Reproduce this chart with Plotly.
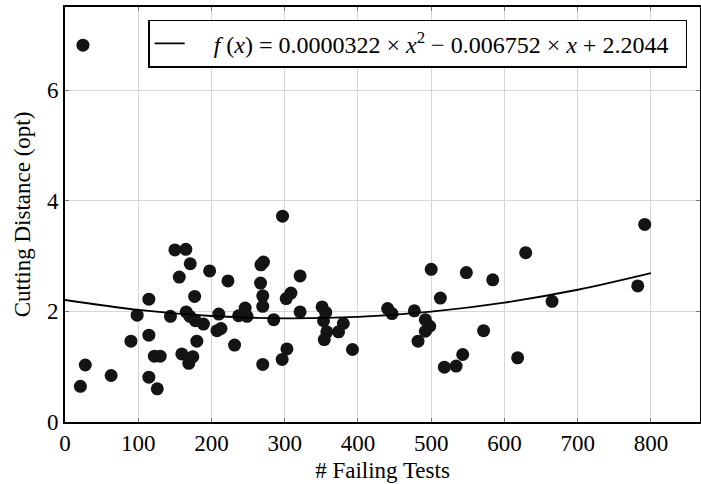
import plotly.graph_objects as go

# Scatter data: failing tests vs cutting distance
failing_tests = [24.5, 21, 27.7, 63, 90, 98.5, 114.5, 114.5, 114.5, 126, 122, 130, 144, 150, 165,
                 156, 171, 159.5, 169, 174.5, 177, 165.5, 170.5, 178, 180, 189, 197.5, 210, 207.5,
                 213, 222.5, 231.5, 237, 246, 248.5, 267, 267.5, 271, 270, 270, 270, 285, 296.5,
                 303, 297, 302, 308.5, 321, 321, 351, 356, 353, 357.5, 354, 373.5, 380, 392.5,
                 440.5, 446.5, 477, 492, 498, 492, 482, 500, 512.5, 548, 584, 571.5, 518, 534,
                 543, 618, 629, 665, 782, 791.5]
cutting_distance = [6.81, 0.645, 1.03, 0.84, 1.46, 1.93, 2.22, 1.57, 0.81, 0.60, 1.19, 1.19, 1.91,
                    3.11, 3.12, 2.62, 2.86, 1.23, 1.06, 1.18, 2.27, 1.99, 1.91, 1.83, 1.46, 1.77,
                    2.73, 1.95, 1.65, 1.69, 2.55, 1.39, 1.92, 2.06, 1.91, 2.51, 2.84, 2.89, 2.28,
                    2.09, 1.04, 1.85, 1.13, 1.32, 3.72, 2.23, 2.33, 2.64, 1.99, 2.08, 1.98, 1.83,
                    1.63, 1.49, 1.63, 1.78, 1.31, 2.05, 1.96, 2.01, 1.85, 1.73, 1.64, 1.46, 2.76,
                    2.24, 2.70, 2.57, 1.65, 0.99, 1.01, 1.22, 1.16, 3.06, 2.18, 2.46, 3.57]

# Fitted curve
curve_x = [0, 100, 200, 300, 400, 500, 600, 700, 800]
curve_y = [2.205, 2.026, 1.916, 1.874, 1.90, 1.995, 2.158, 2.39, 2.69]

x_ticks = [0, 100, 200, 300, 400, 500, 600, 700, 800]
y_ticks = [0, 2, 4, 6]

legend_label = ("&nbsp;&nbsp;&nbsp;&nbsp;<i>f</i> (<i>x</i>) = 0.0000322 × <i>x</i><sup>2</sup> − "
                "0.006752 × <i>x</i> + 2.2044&nbsp;&nbsp;")

FONT = "Liberation Serif, Times New Roman, serif"

fig = go.Figure()
fig.add_trace(go.Scatter(
    x=failing_tests, y=cutting_distance, mode="markers",
    marker=dict(size=13, color="#141414"), showlegend=False))
fig.add_trace(go.Scatter(
    x=curve_x, y=curve_y, mode="lines", name=legend_label,
    line=dict(color="black", width=1.8, shape="spline")))

axis_common = dict(
    showline=True, linecolor="black", linewidth=1.6, mirror="ticks",
    showgrid=True, gridcolor="#d6d6d6", gridwidth=1,
    ticks="inside", ticklen=4, tickcolor="#777", tickwidth=1,
    zeroline=False, automargin=False,
    tickfont=dict(family=FONT, size=23, color="black"),
)

fig.update_layout(
    width=701, height=484,
    margin=dict(l=65, r=1, t=7, b=62, autoexpand=False),
    paper_bgcolor="white", plot_bgcolor="white",
    font=dict(family=FONT, size=23, color="black"),
    xaxis=dict(range=[0, 867], tickvals=x_ticks,
               title=dict(text="# Failing Tests", font=dict(family=FONT, size=23), standoff=6),
               **axis_common),
    yaxis=dict(range=[0, 7.5], tickvals=y_ticks,
               title=dict(text="Cutting Distance (opt)", font=dict(family=FONT, size=23), standoff=10),
               **axis_common),
    legend=dict(x=0.131, y=0.969, xanchor="left", yanchor="top",
                bgcolor="white", bordercolor="black", borderwidth=1.5,
                font=dict(family=FONT, size=24, color="black")),
)

post = ("document.documentElement.style.margin='0';document.body.style.margin='0';"
        "document.body.style.padding='0';document.documentElement.style.overflow='hidden';"
        "document.body.style.overflow='hidden';")

fig.write_html("out.html", post_script=post,
               config={"responsive": False, "displayModeBar": False})
